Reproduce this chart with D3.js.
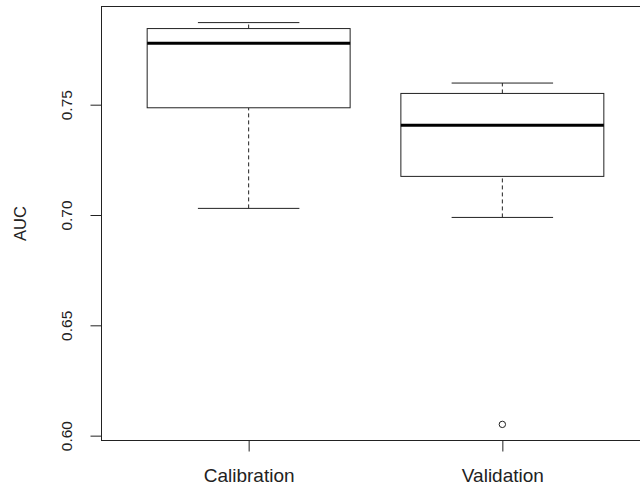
<!DOCTYPE html>
<html>
<head>
<meta charset="utf-8">
<script src="https://cdn.jsdelivr.net/npm/d3@7"></script>
<style>
  body { margin: 0; background: #fff; }
  svg { display: block; font-family: "Liberation Sans", Arial, sans-serif; }
</style>
</head>
<body>
<div id="chart"></div>
<script>
// box plot stats
const groups = ["Calibration", "Validation"]
const whiskerLow = [0.7030, 0.6989]
const q1 = [0.7486, 0.7175]
const median = [0.7779, 0.7407]
const q3 = [0.7845, 0.7551]
const whiskerHigh = [0.7872, 0.7598]
const outliers = [[], [0.6051]]
const yTicks = [0.60, 0.65, 0.70, 0.75]

const width = 640, height = 493
const plot = { left: 101.5, right: 649.5, top: 6.5, bottom: 440.5 }

const svg = d3.select("#chart").append("svg")
    .attr("width", width)
    .attr("height", height)

// R-style scales (4% padding around the data range)
const y = d3.scaleLinear()
    .domain([0.5978, 0.7945])
    .range([plot.bottom, plot.top])

const x = d3.scaleLinear()
    .domain([0.42, 2.58])
    .range([plot.left, plot.right])

const boxW = x(1.4) - x(1)      // half box width (0.8 wide)
const capW = boxW / 2           // whisker caps half width

// frame
svg.append("rect")
    .attr("x", plot.left)
    .attr("y", plot.top)
    .attr("width", plot.right - plot.left)
    .attr("height", plot.bottom - plot.top)
    .attr("fill", "none")
    .attr("stroke", "#222")
    .attr("stroke-width", 1)

// y axis
const yAxis = svg.append("g")
    .attr("transform", `translate(${plot.left},0)`)
    .call(d3.axisLeft(y).tickValues(yTicks).tickFormat(d3.format(".2f")).tickSize(11))
    .call(g => g.select(".domain").remove())
yAxis.selectAll(".tick line").attr("stroke", "#222")
yAxis.selectAll(".tick text")
    .attr("x", 0).attr("dy", 0).attr("y", 0)
    .attr("text-anchor", "middle")
    .attr("transform", "translate(-30,0) rotate(-90)")
    .attr("fill", "#222")
    .style("font-size", "15.5px")
    .style("font-family", "Liberation Sans, Arial, sans-serif")

// x axis
const xAxis = svg.append("g")
    .attr("transform", `translate(0,${plot.bottom})`)
    .call(d3.axisBottom(x).tickValues([1, 2]).tickFormat(d => groups[d - 1]).tickSize(11))
    .call(g => g.select(".domain").remove())
xAxis.selectAll(".tick line").attr("stroke", "#222")
xAxis.selectAll(".tick text")
    .attr("y", 41.5).attr("dy", 0)
    .attr("fill", "#222")
    .style("font-size", "19px")
    .style("font-family", "Liberation Sans, Arial, sans-serif")

// y title
svg.append("text")
    .attr("transform", `translate(25.5,${(plot.top + plot.bottom) / 2}) rotate(-90)`)
    .attr("text-anchor", "middle")
    .attr("fill", "#222")
    .style("font-size", "16.5px")
    .text("AUC")

// boxes
const stats = groups.map((g, i) => ({
    pos: i + 1, lo: whiskerLow[i], q1: q1[i], med: median[i], q3: q3[i], hi: whiskerHigh[i], out: outliers[i]
}))

const box = svg.selectAll(".box")
    .data(stats)
    .enter()
    .append("g")
    .attr("class", "box")

// dashed whiskers
box.append("line")
    .attr("x1", d => x(d.pos)).attr("x2", d => x(d.pos))
    .attr("y1", d => y(d.lo)).attr("y2", d => y(d.q1))
    .attr("stroke", "#222").attr("stroke-dasharray", "4,3")
box.append("line")
    .attr("x1", d => x(d.pos)).attr("x2", d => x(d.pos))
    .attr("y1", d => y(d.q3)).attr("y2", d => y(d.hi))
    .attr("stroke", "#222").attr("stroke-dasharray", "4,3")

// caps
box.append("line")
    .attr("x1", d => x(d.pos) - capW).attr("x2", d => x(d.pos) + capW)
    .attr("y1", d => y(d.lo)).attr("y2", d => y(d.lo))
    .attr("stroke", "#222")
box.append("line")
    .attr("x1", d => x(d.pos) - capW).attr("x2", d => x(d.pos) + capW)
    .attr("y1", d => y(d.hi)).attr("y2", d => y(d.hi))
    .attr("stroke", "#222")

// box body
box.append("rect")
    .attr("x", d => x(d.pos) - boxW)
    .attr("y", d => y(d.q3))
    .attr("width", boxW * 2)
    .attr("height", d => y(d.q1) - y(d.q3))
    .attr("fill", "#fff")
    .attr("stroke", "#222")

// median
box.append("line")
    .attr("x1", d => x(d.pos) - boxW).attr("x2", d => x(d.pos) + boxW)
    .attr("y1", d => y(d.med)).attr("y2", d => y(d.med))
    .attr("stroke", "#000").attr("stroke-width", 3)

// outliers
box.selectAll("circle")
    .data(d => d.out.map(v => ({ pos: d.pos, v: v })))
    .enter()
    .append("circle")
    .attr("cx", d => x(d.pos))
    .attr("cy", d => y(d.v))
    .attr("r", 3.2)
    .attr("fill", "none")
    .attr("stroke", "#222")
</script>
</body>
</html>
